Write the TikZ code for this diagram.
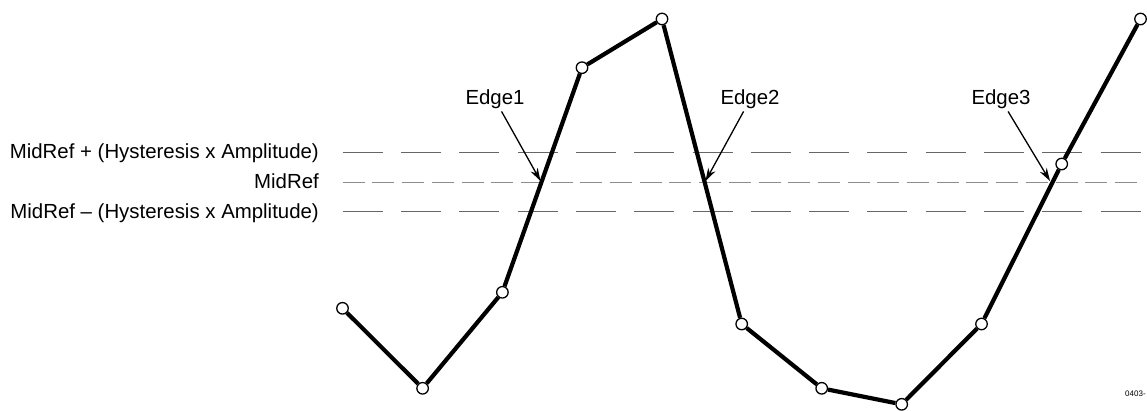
\documentclass[tikz,border=0pt]{standalone}
\usepackage{fontspec}
\setmainfont{Liberation Sans}
\usetikzlibrary{arrows.meta}
\begin{document}
\begin{tikzpicture}[x=1pt,y=-1pt,
  wave/.style={line width=4.2pt,line join=round},
  pt/.style={circle,draw=black,fill=white,line width=1.3pt,minimum size=11.5pt,inner sep=0pt},
  refhys/.style={line width=1pt,draw=black!60,dash pattern=on 40pt off 18.3pt},
  refmid/.style={line width=1.1pt,draw=black!45,dash pattern=on 22pt off 7.7pt},
  lbl/.style={font=\fontsize{20.4}{24}\selectfont,inner sep=2pt},
  arr/.style={line width=1.3pt,-{Stealth[length=13pt,width=8pt]}}]
\useasboundingbox (0,0) rectangle (1147,411);
% reference lines
\coordinate (h1a) at (342.7,152.5); \coordinate (h1b) at (1142,152.5);
\coordinate (ma) at (342.7,182.5); \coordinate (mb) at (1138,182.5);
\coordinate (h2a) at (342.7,212); \coordinate (h2b) at (1142,212);
\draw[refhys] (h1a) -- (h1b);
\draw[refmid] (ma) -- (mb);
\draw[refhys] (h2a) -- (h2b);
% labels
\node[lbl,anchor=base east] (lup) at (321,159) {MidRef + (Hysteresis x Amplitude)};
\node[lbl,anchor=base east] (lmid) at (321,189) {MidRef};
\node[lbl,anchor=base east] (llo) at (321,219) {MidRef – (Hysteresis x Amplitude)};
% waveform points
\node[pt] (p1) at (342.5,308.3) {};
\node[pt] (p2) at (422.6,388.3) {};
\node[pt] (p3) at (502.4,292.3) {};
\node[pt] (p4) at (582,67.7) {};
\node[pt] (p5) at (662,19) {};
\node[pt] (p6) at (741.7,324) {};
\node[pt] (p7) at (821.7,388.3) {};
\node[pt] (p8) at (901.7,404.3) {};
\node[pt] (p9) at (981.5,324) {};
\node[pt] (p10) at (1061.7,164) {};
\node[pt] (p11) at (1140.5,19) {};
\draw[wave] (p1) -- (p2);
\draw[wave] (p2) -- (p3);
\draw[wave] (p3) -- (p4);
\draw[wave] (p4) -- (p5);
\draw[wave] (p5) -- (p6);
\draw[wave] (p6) -- (p7);
\draw[wave] (p7) -- (p8);
\draw[wave] (p8) -- (p9);
\draw[wave] (p9) -- (p10);
\draw[wave] (p10) -- (p11);
% edge labels and arrows
\node[lbl,anchor=base] (e1) at (495,105) {Edge1};
\node[lbl,anchor=base] (e2) at (750,105) {Edge2};
\node[lbl,anchor=base] (e3) at (1001,105) {Edge3};
\coordinate (t1) at (540.5,181);
\coordinate (t2) at (705.5,181);
\coordinate (t3) at (1050,181);
\draw[arr] (e1) -- (t1);
\draw[arr] (e2) -- (t2);
\draw[arr] (e3) -- (t3);
\node[font=\fontsize{8}{9}\selectfont,anchor=base west,inner sep=0pt] (id) at (1125,396) {0403-};
\end{tikzpicture}
\end{document}
